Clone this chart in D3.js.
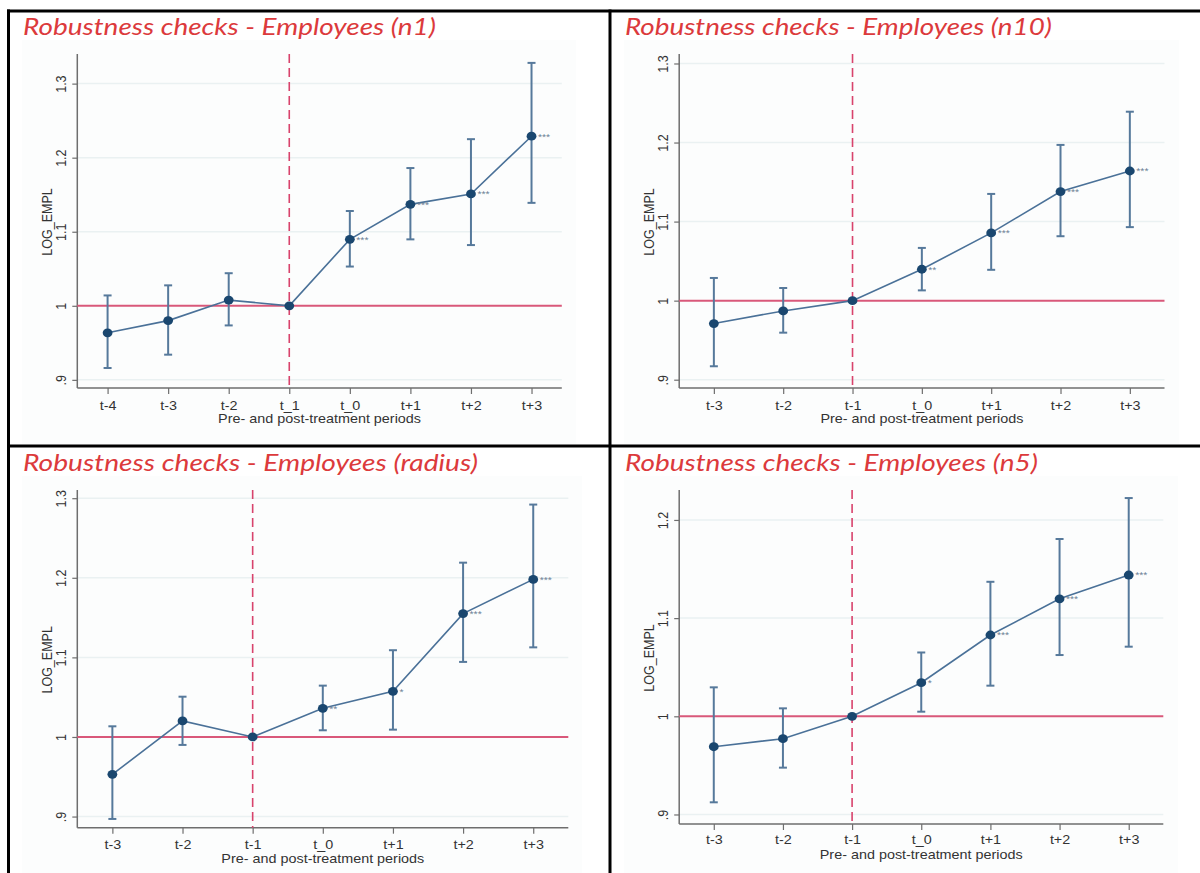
<!DOCTYPE html>
<html>
<head>
<meta charset="utf-8">
<script src="https://cdn.jsdelivr.net/npm/d3@7"></script>
<style>
  html, body { margin: 0; padding: 0; background: #fff; }
  svg { display: block; }
</style>
</head>
<body>
<svg id="chart" width="1200" height="873"></svg>
<script>
// Event-study estimates of LOG_EMPL around treatment, four matching variants.
const periods7 = ["t-3", "t-2", "t-1", "t_0", "t+1", "t+2", "t+3"];
const periodsN1 = ["t-4", "t-3", "t-2", "t_1", "t_0", "t+1", "t+2", "t+3"];

// n1
const n1Coef  = [0.9635, 0.980, 1.0077, 1.000, 1.0897, 1.137, 1.151, 1.229];
const n1Lower = [0.916, 0.934, 0.9735, null, 1.053, 1.0897, 1.082, 1.139];
const n1Upper = [1.014, 1.0276, 1.044, null, 1.128, 1.186, 1.225, 1.328];
const n1Stars = ["", "", "", "", "***", "***", "***", "***"];

// n10
const n10Coef  = [0.971, 0.987, 1.000, 1.0397, 1.0857, 1.138, 1.164];
const n10Lower = [0.917, 0.9595, null, 1.013, 1.039, 1.0815, 1.093];
const n10Upper = [1.0287, 1.016, null, 1.0667, 1.135, 1.197, 1.239];
const n10Stars = ["", "", "", "**", "***", "***", "***"];

// radius
const radCoef  = [0.953, 1.0201, 1.000, 1.036, 1.0574, 1.155, 1.198];
const radLower = [0.897, 0.990, null, 1.0084, 1.0092, 1.0943, 1.1126];
const radUpper = [1.0134, 1.0506, null, 1.0645, 1.109, 1.219, 1.292];
const radStars = ["", "", "", "**", "*", "***", "***"];

// n5
const n5Coef  = [0.969, 0.9772, 1.000, 1.0342, 1.0828, 1.1197, 1.1439];
const n5Lower = [0.9124, 0.9477, null, 1.0047, 1.0312, 1.0624, 1.0709];
const n5Upper = [1.0295, 1.0081, null, 1.065, 1.137, 1.1806, 1.2223];
const n5Stars = ["", "", "", "*", "***", "***", "***"];

// Y-axis tick values and their printed labels
const ticksA = [0.9, 1.0, 1.1, 1.2, 1.3];
const ticksB = [0.9, 1.0, 1.1, 1.2];
const tickFmt = v => ({0.9: ".9", 1: "1", 1.1: "1.1", 1.2: "1.2", 1.3: "1.3"})[+v.toFixed(1)];

const titles = [
  "Robustness checks - Employees (n1)",
  "Robustness checks - Employees (n10)",
  "Robustness checks - Employees (radius)",
  "Robustness checks - Employees (n5)"
];
const yLabel = "LOG_EMPL";
const xLabel = "Pre- and post-treatment periods";
const refPeriod = ["t_1", "t-1", "t-1", "t-1"];

// Panel frames (pixel layout)
const panels = [
  { title: titles[0], titleX: 23, titleY: 35, titleW: 413, bg: [22, 40, 576, 444],
    x0: 77.3, x1: 561.8, yTop: 54, yBot: 388, dom: [0.889, 1.340], ticks: ticksA,
    cats: periodsN1, coef: n1Coef, lo: n1Lower, hi: n1Upper, stars: n1Stars, ref: refPeriod[0],
    tickLabY: 405.5, xTitleY: 419 },
  { title: titles[1], titleX: 625, titleY: 35, titleW: 427, bg: [624, 40, 1179, 444],
    x0: 679.2, x1: 1164.5, yTop: 54, yBot: 388, dom: [0.8895, 1.312], ticks: ticksA,
    cats: periods7, coef: n10Coef, lo: n10Lower, hi: n10Upper, stars: n10Stars, ref: refPeriod[1],
    tickLabY: 405.5, xTitleY: 419 },
  { title: titles[2], titleX: 23, titleY: 471, titleW: 455, bg: [22, 476, 582, 873],
    x0: 77.3, x1: 568.3, yTop: 490, yBot: 827.7, dom: [0.886, 1.3103], ticks: ticksA,
    cats: periods7, coef: radCoef, lo: radLower, hi: radUpper, stars: radStars, ref: refPeriod[2],
    tickLabY: 845, xTitleY: 858.5 },
  { title: titles[3], titleX: 625, titleY: 471, titleW: 413, bg: [624, 476, 1178, 873],
    x0: 679.2, x1: 1163.3, yTop: 490, yBot: 824, dom: [0.8903, 1.2305], ticks: ticksB,
    cats: periods7, coef: n5Coef, lo: n5Lower, hi: n5Upper, stars: n5Stars, ref: refPeriod[3],
    tickLabY: 840, xTitleY: 855 }
];

const svg = d3.select("#chart");
const AXIS_FONT = "'Liberation Sans', Arial, sans-serif";
const AXIS_SIZE = 12.5;
const STRETCH = 1.15;   // horizontal stretch of the exported Stata graphs
const colors = {
  title: "#dc3a3c",
  axis: "#6e6e6e",
  grid: "#eaf1f2",
  ref: "#d9587a",
  refDash: "#d8436c",
  line: "#4a7198",
  bar: "#56799b",
  dot: "#1a476f",
  stars: "#6b7f94",
  text: "#333"
};

panels.forEach(p => {
  const g = svg.append("g");

  // faint plot-region background
  g.append("rect")
    .attr("x", p.bg[0]).attr("y", p.bg[1])
    .attr("width", p.bg[2] - p.bg[0]).attr("height", p.bg[3] - p.bg[1])
    .attr("fill", "#fcfdfd");

  const x = d3.scalePoint().domain(p.cats).range([p.x0, p.x1]).padding(0.5);
  const y = d3.scaleLinear().domain(p.dom).range([p.yBot, p.yTop]);

  // title
  g.append("text")
    .attr("x", p.titleX).attr("y", p.titleY)
    .attr("font-family", "Lato, 'Open Sans', sans-serif")
    .attr("font-style", "italic")
    .attr("font-size", 23.5)
    .attr("textLength", p.titleW)
    .attr("lengthAdjust", "spacingAndGlyphs")
    .attr("fill", colors.title)
    .text(p.title);

  // gridlines
  g.append("g").selectAll("line").data(p.ticks.filter(t => t !== 1)).join("line")
    .attr("x1", p.x0).attr("x2", p.x1)
    .attr("y1", d => y(d)).attr("y2", d => y(d))
    .attr("stroke", colors.grid).attr("stroke-width", 1.5);

  // y axis
  const yAxis = g.append("g")
    .attr("transform", `translate(${p.x0},0)`)
    .call(d3.axisLeft(y).tickValues(p.ticks).tickFormat(tickFmt).tickSize(5));
  yAxis.select(".domain").attr("stroke", colors.axis).attr("stroke-width", 1.5)
    .attr("d", `M0,${p.yTop}V${p.yBot}`);
  yAxis.selectAll(".tick line").attr("stroke", colors.axis).attr("stroke-width", 1.2);
  yAxis.selectAll(".tick text")
    .attr("font-family", AXIS_FONT).attr("font-size", AXIS_SIZE).attr("fill", colors.text)
    .attr("transform", `scale(${STRETCH},1) rotate(-90)`)
    .attr("x", 0).attr("y", -11 / STRETCH).attr("dy", 0)
    .attr("text-anchor", "middle");

  // x axis
  const xAxis = g.append("g")
    .attr("transform", `translate(0,${p.yBot})`)
    .call(d3.axisBottom(x).tickSize(6));
  xAxis.select(".domain").attr("stroke", colors.axis).attr("stroke-width", 1.5)
    .attr("d", `M${p.x0},0H${p.x1}`);
  xAxis.selectAll(".tick line").attr("stroke", colors.axis).attr("stroke-width", 1.2);
  xAxis.selectAll(".tick text")
    .attr("font-family", AXIS_FONT).attr("font-size", AXIS_SIZE).attr("fill", colors.text)
    .attr("transform", `scale(${STRETCH},1)`)
    .attr("y", p.tickLabY - p.yBot).attr("dy", "0.35em");

  // axis titles
  g.append("text")
    .attr("transform", `translate(${(p.x0 + p.x1) / 2},${p.xTitleY}) scale(${STRETCH},1)`)
    .attr("dy", "0.35em")
    .attr("text-anchor", "middle")
    .attr("font-family", AXIS_FONT).attr("font-size", AXIS_SIZE).attr("fill", colors.text)
    .text(xLabel);
  g.append("text")
    .attr("transform", `translate(${p.x0 - 25.5},${(p.yTop + p.yBot) / 2 + 1}) scale(${STRETCH},1) rotate(-90)`)
    .attr("text-anchor", "middle")
    .attr("font-family", AXIS_FONT).attr("font-size", AXIS_SIZE).attr("fill", colors.text)
    .text(yLabel);

  // reference lines
  g.append("line")
    .attr("x1", p.x0).attr("x2", p.x1)
    .attr("y1", y(1)).attr("y2", y(1))
    .attr("stroke", colors.ref).attr("stroke-width", 2);
  g.append("line")
    .attr("x1", x(p.ref)).attr("x2", x(p.ref))
    .attr("y1", p.yTop).attr("y2", p.yBot)
    .attr("stroke", colors.refDash).attr("stroke-width", 1.6)
    .attr("stroke-dasharray", "9,5");

  const rows = p.cats.map((c, i) => ({ c, v: p.coef[i], lo: p.lo[i], hi: p.hi[i], s: p.stars[i] }));

  // confidence intervals
  const ci = g.append("g").selectAll("g").data(rows.filter(d => d.lo !== null)).join("g")
    .attr("stroke", colors.bar).attr("stroke-width", 2);
  ci.append("line")
    .attr("x1", d => x(d.c)).attr("x2", d => x(d.c))
    .attr("y1", d => y(d.lo)).attr("y2", d => y(d.hi));
  ci.append("line")
    .attr("x1", d => x(d.c) - 4).attr("x2", d => x(d.c) + 4)
    .attr("y1", d => y(d.lo)).attr("y2", d => y(d.lo));
  ci.append("line")
    .attr("x1", d => x(d.c) - 4).attr("x2", d => x(d.c) + 4)
    .attr("y1", d => y(d.hi)).attr("y2", d => y(d.hi));

  // connecting line
  g.append("path")
    .datum(rows)
    .attr("fill", "none")
    .attr("stroke", colors.line).attr("stroke-width", 1.6)
    .attr("d", d3.line().x(d => x(d.c)).y(d => y(d.v)));

  // point estimates
  g.append("g").selectAll("ellipse").data(rows).join("ellipse")
    .attr("cx", d => x(d.c)).attr("cy", d => y(d.v))
    .attr("rx", 4.9).attr("ry", 4.4)
    .attr("fill", colors.dot);

  // significance stars
  g.append("g").selectAll("text").data(rows.filter(d => d.s)).join("text")
    .attr("transform", d => `translate(${x(d.c) + 6.5},${y(d.v) + 3.3}) scale(${STRETCH},1)`)
    .attr("font-family", AXIS_FONT).attr("font-size", 9).attr("fill", colors.stars)
    .text(d => d.s);
});

// panel frame lines
const frame = svg.append("g").attr("stroke", "#000").attr("stroke-width", 3);
frame.append("line").attr("x1", 7).attr("x2", 1200).attr("y1", 11).attr("y2", 11);
frame.append("line").attr("x1", 8.5).attr("x2", 8.5).attr("y1", 9.5).attr("y2", 873);
frame.append("line").attr("x1", 610).attr("x2", 610).attr("y1", 9.5).attr("y2", 873);
frame.append("line").attr("x1", 7).attr("x2", 1200).attr("y1", 446).attr("y2", 446);
</script>
</body>
</html>
